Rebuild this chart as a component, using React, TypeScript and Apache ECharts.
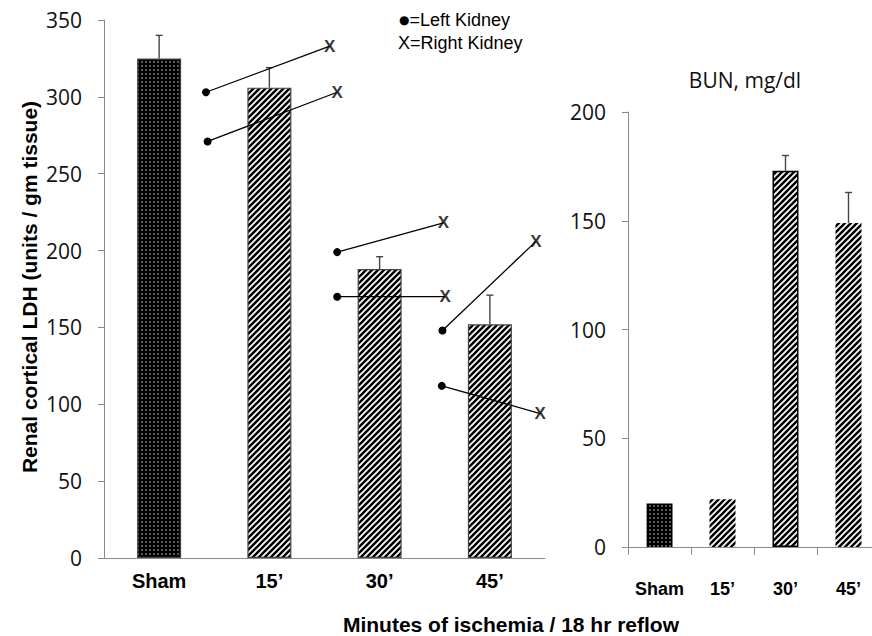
import React, { useEffect, useRef } from "react";
import * as echarts from "echarts";

// ---- data ----
const categories = ["Sham", "15’", "30’", "45’"];
const ldhMean = [325, 306, 188, 152];
const ldhSem = [15, 13, 8, 19];
const bunMean = [20, 22, 173, 149];
const bunSem = [0, 0, 7, 14];
const ldhTicks = [0, 350, 50];
const bunTicks = [0, 200, 50];

// individual kidneys (x in category-index units, y in LDH units)
const leftKidneyX = [0.425, 0.44, 1.615, 1.615, 2.57, 2.564];
const leftKidneyLDH = [303, 271, 199, 170, 148, 112];
const rightKidneyX = [1.548, 1.615, 2.579, 2.594, 3.418, 3.457];
const rightKidneyLDH = [333, 303, 218, 170, 206, 94];

const svgUrl = (s: string) => "data:image/svg+xml;charset=utf-8," + encodeURIComponent(s);

const hatch = {
  image: svgUrl(
    "<svg xmlns='http://www.w3.org/2000/svg' width='6' height='6'><rect width='6' height='6' fill='white'/><path d='M-1.5,1.5 L1.5,-1.5 M0,6 L6,0 M4.5,7.5 L7.5,4.5' stroke='black' stroke-width='2.5'/></svg>"
  ),
  repeat: "repeat",
  imageWidth: 6,
  imageHeight: 6,
};
const dots = {
  image: svgUrl(
    "<svg xmlns='http://www.w3.org/2000/svg' width='4' height='4'><rect width='4' height='4' fill='black'/><rect x='1.3' y='1.3' width='1.4' height='1.4' fill='#b8b8b8'/></svg>"
  ),
  repeat: "repeat",
  imageWidth: 4,
  imageHeight: 4,
};

const AXIS_COLOR = "#8a8a8a";
const TICK_FONT = "'Open Sans', sans-serif";
const ARIAL = "'Liberation Sans', Arial, sans-serif";

function errorRender(params: any, api: any) {
  const i = api.value(0);
  const m = api.value(1);
  const s = api.value(2);
  if (!s) return { type: "group", children: [] };
  const p0 = api.coord([i, m]);
  const p1 = api.coord([i, m + s]);
  const st = { stroke: "#444", lineWidth: 1.4 };
  return {
    type: "group",
    children: [
      { type: "line", shape: { x1: p0[0], y1: p0[1], x2: p1[0], y2: p1[1] }, style: st },
      { type: "line", shape: { x1: p1[0] - 3.5, y1: p1[1], x2: p1[0] + 3.5, y2: p1[1] }, style: st },
    ],
  };
}

export default function App() {
  const ref = useRef<HTMLDivElement>(null);
  useEffect(() => {
    if (!ref.current) return;
    const chart = echarts.init(ref.current, null, { renderer: "svg" });

    const valueAxis = (grid: number, t: number[]) => ({
      type: "value",
      gridIndex: grid,
      min: t[0],
      max: t[1],
      interval: t[2],
      axisLine: { show: true, onZero: false, lineStyle: { color: AXIS_COLOR, width: 1 } },
      axisTick: { show: true, length: 6, lineStyle: { color: AXIS_COLOR } },
      splitLine: { show: false },
      axisLabel: { fontFamily: TICK_FONT, fontSize: 21, color: "#111", margin: 22 },
    });

    const pairLines = leftKidneyX.map((lx, i) => ({
      type: "line",
      xAxisIndex: 2,
      yAxisIndex: 0,
      silent: true,
      z: 4,
      lineStyle: { color: "#000", width: 1.3 },
      itemStyle: { color: "#000" },
      data: [
        { value: [lx, leftKidneyLDH[i]], symbol: "circle", symbolSize: 8 },
        { value: [rightKidneyX[i], rightKidneyLDH[i]], symbol: "none" },
      ],
    }));

    const option: any = {
      animation: false,
      grid: [
        { left: 104, top: 20, width: 441, height: 538, outerBoundsMode: "none" },
        { left: 628, top: 112, width: 252, height: 435, outerBoundsMode: "none" },
      ],
      xAxis: [
        {
          type: "category",
          gridIndex: 0,
          data: categories,
          axisLine: { onZero: false, lineStyle: { color: AXIS_COLOR, width: 1 } },
          axisTick: { show: false },
          axisLabel: { interval: 0, fontFamily: ARIAL, fontSize: 20, fontWeight: "bold", color: "#000", margin: 13 },
        },
        {
          type: "category",
          gridIndex: 1,
          data: categories,
          axisLine: { onZero: false, lineStyle: { color: AXIS_COLOR, width: 1 } },
          axisTick: { show: true, length: 8, lineStyle: { color: AXIS_COLOR } },
          axisLabel: { interval: 0, hideOverlap: false, fontFamily: ARIAL, fontSize: 18, fontWeight: "bold", color: "#000", margin: 33 },
        },
        { type: "value", gridIndex: 0, min: -0.5, max: 3.5, show: false },
      ],
      yAxis: [valueAxis(0, ldhTicks), valueAxis(1, bunTicks)],
      series: [
        {
          type: "bar",
          xAxisIndex: 0,
          yAxisIndex: 0,
          barWidth: 44,
          data: ldhMean.map((v, i) => ({
            value: v,
            itemStyle: { color: i === 0 ? dots : hatch, borderColor: "#444", borderWidth: 1.2 },
          })),
        },
        {
          type: "custom",
          xAxisIndex: 0,
          yAxisIndex: 0,
          z: 3,
          renderItem: errorRender,
          encode: { x: 0, y: 1 },
          data: ldhMean.map((v, i) => [i, v, ldhSem[i]]),
        },
        {
          type: "bar",
          xAxisIndex: 1,
          yAxisIndex: 1,
          barWidth: 26,
          data: bunMean.map((v, i) => ({
            value: v,
            itemStyle: {
              color: i === 0 ? dots : hatch,
              borderColor: i === 2 ? "#000" : "transparent",
              borderWidth: i === 2 ? 1.5 : 0,
            },
          })),
        },
        {
          type: "custom",
          xAxisIndex: 1,
          yAxisIndex: 1,
          z: 3,
          renderItem: errorRender,
          encode: { x: 0, y: 1 },
          data: bunMean.map((v, i) => [i, v, bunSem[i]]),
        },
        ...pairLines,
        {
          type: "scatter",
          xAxisIndex: 2,
          yAxisIndex: 0,
          silent: true,
          z: 5,
          symbolSize: 1,
          itemStyle: { color: "transparent" },
          label: {
            show: true,
            position: "inside",
            formatter: "X",
            fontFamily: ARIAL,
            fontSize: 17,
            fontWeight: "bold",
            color: "#000",
          },
          data: rightKidneyX.map((x, i) => [x, rightKidneyLDH[i]]),
        },
      ],
      graphic: [
        {
          type: "text",
          x: 29,
          y: 287,
          rotation: Math.PI / 2,
          style: {
            text: "Renal cortical LDH (units / gm tissue)",
            font: "bold 21px 'Liberation Sans', Arial, sans-serif",
            fill: "#000",
            align: "center",
            verticalAlign: "middle",
            textAlign: "center",
            textVerticalAlign: "middle",
          },
        },
        {
          type: "text",
          x: 511,
          y: 624,
          style: {
            text: "Minutes of ischemia / 18 hr reflow",
            font: "bold 21px 'Liberation Sans', Arial, sans-serif",
            fill: "#000",
            align: "center",
            verticalAlign: "middle",
            textAlign: "center",
            textVerticalAlign: "middle",
          },
        },
        {
          type: "text",
          x: 399,
          y: 20,
          style: {
            text: "{d|●}=Left Kidney",
            rich: { d: { fontSize: 12, fontFamily: "'DejaVu Sans', sans-serif", fill: "#000" } },
            font: "18px 'Liberation Sans', Arial, sans-serif",
            fill: "#000",
            align: "left",
            verticalAlign: "middle",
            textAlign: "left",
            textVerticalAlign: "middle",
          },
        },
        {
          type: "text",
          x: 398,
          y: 43,
          style: {
            text: "X=Right Kidney",
            font: "18px 'Liberation Sans', Arial, sans-serif",
            fill: "#000",
            align: "left",
            verticalAlign: "middle",
            textAlign: "left",
            textVerticalAlign: "middle",
          },
        },
        {
          type: "text",
          x: 745,
          y: 80,
          style: {
            text: "BUN, mg/dl",
            font: "21px 'Open Sans', sans-serif",
            fill: "#111",
            align: "center",
            verticalAlign: "middle",
            textAlign: "center",
            textVerticalAlign: "middle",
          },
        },
      ],
    };
    chart.setOption(option);
    return () => chart.dispose();
  }, []);

  return (
    <div
      ref={ref}
      style={{ position: "fixed", left: 0, top: 0, width: 872, height: 636, background: "#fff" }}
    />
  );
}
